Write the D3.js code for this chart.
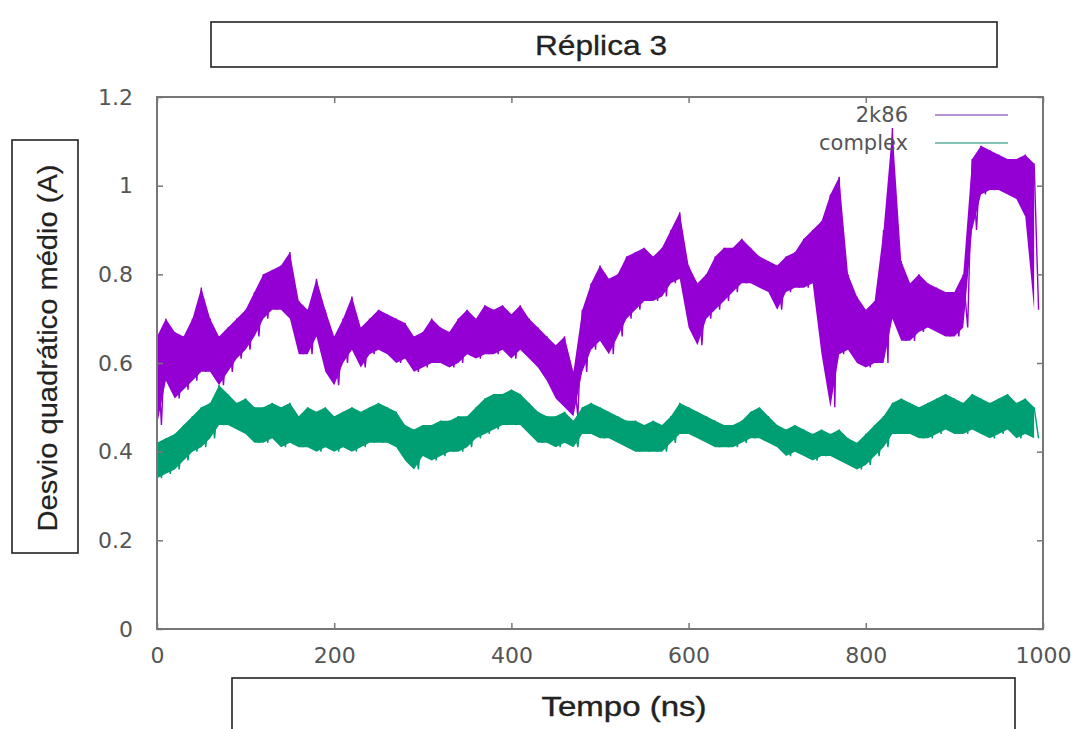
<!DOCTYPE html>
<html lang="pt">
<head>
<meta charset="UTF-8">
<title>Réplica 3</title>
<script src="https://d3js.org/d3.v7.min.js"></script>
<style>
  body { margin: 0; background: #fff; }
  svg { display: block; font-family: 'Liberation Sans', Arial, sans-serif; }
  .tick text { font-family: 'DejaVu Sans', sans-serif; fill: #555; }
</style>
</head>
<body>
<svg width="1074" height="729"></svg>
<script>
// time bins (ns), one per 10 ns
const times = d3.range(0, 1000, 10);

// 2k86: band top / bottom per bin
const k86Hi = [0.66,0.70,0.67,0.66,0.70,0.77,0.70,0.66,0.68,0.70,
               0.72,0.76,0.80,0.81,0.82,0.85,0.74,0.72,0.79,0.72,
               0.66,0.70,0.75,0.68,0.70,0.72,0.71,0.70,0.69,0.66,
               0.67,0.70,0.68,0.67,0.70,0.72,0.70,0.73,0.72,0.73,
               0.71,0.73,0.70,0.68,0.66,0.64,0.66,0.58,0.72,0.78,
               0.82,0.79,0.80,0.84,0.85,0.86,0.84,0.86,0.90,0.94,
               0.82,0.78,0.80,0.84,0.86,0.86,0.88,0.86,0.84,0.83,
               0.82,0.84,0.85,0.88,0.90,0.92,0.98,1.02,0.80,0.75,
               0.72,0.74,0.90,1.13,0.83,0.78,0.80,0.78,0.77,0.76,
               0.76,0.80,1.06,1.09,1.08,1.07,1.06,1.06,1.07,1.05];
const k86Lo = [0.46,0.56,0.52,0.54,0.56,0.58,0.58,0.55,0.58,0.61,
               0.63,0.66,0.70,0.72,0.72,0.70,0.62,0.62,0.66,0.58,
               0.55,0.60,0.63,0.59,0.62,0.63,0.62,0.60,0.61,0.58,
               0.59,0.60,0.60,0.59,0.60,0.62,0.61,0.62,0.62,0.63,
               0.61,0.63,0.61,0.59,0.56,0.52,0.50,0.48,0.58,0.63,
               0.65,0.62,0.66,0.70,0.72,0.74,0.74,0.75,0.78,0.79,
               0.68,0.64,0.70,0.72,0.74,0.76,0.78,0.78,0.77,0.76,
               0.72,0.76,0.77,0.77,0.78,0.62,0.50,0.62,0.63,0.60,
               0.59,0.60,0.60,0.70,0.65,0.65,0.67,0.68,0.67,0.66,
               0.66,0.68,0.90,0.98,0.99,0.99,0.98,0.97,0.93,0.72];

// complex
const cplxHi = [0.42,0.43,0.44,0.46,0.48,0.50,0.51,0.55,0.53,0.51,
                0.52,0.50,0.50,0.51,0.50,0.51,0.48,0.50,0.49,0.50,
                0.48,0.49,0.50,0.49,0.50,0.51,0.50,0.49,0.46,0.45,
                0.46,0.46,0.47,0.47,0.48,0.48,0.50,0.52,0.53,0.53,
                0.54,0.53,0.51,0.49,0.48,0.48,0.49,0.47,0.50,0.51,
                0.50,0.49,0.48,0.47,0.47,0.46,0.47,0.46,0.48,0.51,
                0.50,0.49,0.48,0.47,0.46,0.46,0.47,0.49,0.50,0.48,
                0.46,0.45,0.46,0.45,0.44,0.45,0.44,0.45,0.43,0.42,
                0.44,0.46,0.48,0.51,0.52,0.51,0.50,0.51,0.52,0.53,
                0.52,0.51,0.53,0.52,0.51,0.52,0.53,0.51,0.52,0.50];
const cplxLo = [0.34,0.35,0.36,0.38,0.40,0.41,0.43,0.46,0.46,0.45,
                0.44,0.42,0.42,0.43,0.41,0.42,0.41,0.41,0.40,0.41,
                0.40,0.41,0.40,0.41,0.42,0.42,0.42,0.41,0.38,0.36,
                0.39,0.38,0.39,0.40,0.40,0.41,0.43,0.44,0.45,0.46,
                0.46,0.46,0.44,0.42,0.42,0.41,0.42,0.41,0.44,0.44,
                0.43,0.43,0.42,0.41,0.40,0.40,0.40,0.40,0.42,0.44,
                0.44,0.43,0.42,0.41,0.41,0.41,0.42,0.43,0.43,0.42,
                0.41,0.39,0.40,0.39,0.38,0.39,0.39,0.38,0.37,0.36,
                0.37,0.39,0.41,0.44,0.44,0.44,0.43,0.43,0.44,0.45,
                0.44,0.44,0.45,0.44,0.43,0.44,0.45,0.43,0.44,0.43];

const xTicks = [0, 200, 400, 600, 800, 1000];
const yTicks = [0, 0.2, 0.4, 0.6, 0.8, 1, 1.2];

const series = [
  { name: "2k86", hi: k86Hi, lo: k86Lo, color: "#9400d3", legend: "#a070c8" },
  { name: "complex", hi: cplxHi, lo: cplxLo, color: "#009e73", legend: "#5fb0a0" }
];

const svg = d3.select("svg");
const m = { left: 157, right: 1043, top: 97, bottom: 629 };

const x = d3.scaleLinear().domain([0, 1000]).range([m.left, m.right]);
const y = d3.scaleLinear().domain([0, 1.2]).range([m.bottom, m.top]);

// title / label boxes
svg.append("rect").attr("x", 211).attr("y", 22).attr("width", 786).attr("height", 45)
  .attr("fill", "none").attr("stroke", "#222").attr("stroke-width", 1.6);
svg.append("text").attr("x", 601).attr("y", 55).attr("text-anchor", "middle")
  .attr("font-size", 28).attr("fill", "#222").attr("stroke", "#222").attr("stroke-width", 0.3)
  .attr("textLength", 132).attr("lengthAdjust", "spacingAndGlyphs")
  .text("Réplica 3");

svg.append("rect").attr("x", 12).attr("y", 140).attr("width", 66).attr("height", 413)
  .attr("fill", "none").attr("stroke", "#222").attr("stroke-width", 1.6);
svg.append("text").attr("transform", "translate(57,348) rotate(-90)")
  .attr("text-anchor", "middle").attr("font-size", 28).attr("fill", "#222")
  .attr("stroke", "#222").attr("stroke-width", 0.2)
  .attr("textLength", 367).attr("lengthAdjust", "spacingAndGlyphs")
  .text("Desvio quadrático médio (A)");

svg.append("rect").attr("x", 232).attr("y", 678).attr("width", 783).attr("height", 70)
  .attr("fill", "none").attr("stroke", "#222").attr("stroke-width", 1.6);
svg.append("text").attr("x", 624).attr("y", 716).attr("text-anchor", "middle")
  .attr("font-size", 27).attr("fill", "#222").attr("stroke", "#222").attr("stroke-width", 0.4)
  .attr("textLength", 165).attr("lengthAdjust", "spacingAndGlyphs")
  .text("Tempo (ns)");

// series: filled band between bin top and bottom, with a zigzag through them
const line = d3.line().x(d => x(d[0])).y(d => y(d[1]));
const band = d3.area().x(d => x(d.t)).y0(d => y(d.lo)).y1(d => y(d.hi));
series.forEach(s => {
  const rows = times.map((t, i) => ({ t: t, hi: s.hi[i], lo: s.lo[i] }));
  svg.append("path").datum(rows)
    .attr("d", band)
    .attr("fill", s.color);
  const pts = [];
  rows.forEach(r => {
    pts.push([r.t, r.hi]);
    pts.push([r.t + 5, r.lo]);
  });
  svg.append("path").datum(pts)
    .attr("d", line)
    .attr("fill", "none")
    .attr("stroke", s.color)
    .attr("stroke-width", 1.4);
});

// axes (gnuplot-like: border with inward mirrored ticks)
const tickLen = 6;
const axisColor = "#777";
const axB = svg.append("g").attr("transform", `translate(0,${m.bottom})`)
  .call(d3.axisBottom(x).tickValues(xTicks).tickFormat(d3.format("d")).tickSizeInner(-tickLen).tickSizeOuter(0).tickPadding(18));
const axL = svg.append("g").attr("transform", `translate(${m.left},0)`)
  .call(d3.axisLeft(y).tickValues(yTicks).tickFormat(d3.format("~g")).tickSizeInner(-tickLen).tickSizeOuter(0).tickPadding(24));
const axT = svg.append("g").attr("transform", `translate(0,${m.top})`)
  .call(d3.axisTop(x).tickValues(xTicks).tickSizeInner(-tickLen).tickSizeOuter(0).tickFormat(""));
const axR = svg.append("g").attr("transform", `translate(${m.right},0)`)
  .call(d3.axisRight(y).tickValues(yTicks).tickSizeInner(-tickLen).tickSizeOuter(0).tickFormat(""));
[axB, axL, axT, axR].forEach(g => {
  g.select(".domain").remove();
  g.selectAll(".tick line").attr("stroke", axisColor).attr("stroke-width", 1.5);
  g.selectAll(".tick text").attr("font-size", 22);
});
svg.append("rect").attr("x", m.left).attr("y", m.top)
  .attr("width", m.right - m.left).attr("height", m.bottom - m.top)
  .attr("fill", "none").attr("stroke", axisColor).attr("stroke-width", 2);

// legend
const leg = svg.append("g");
series.forEach((s, i) => {
  const ly = 115 + i * 28;
  leg.append("text").attr("x", 908).attr("y", ly).attr("dy", "0.35em")
    .attr("text-anchor", "end").attr("font-family", "'DejaVu Sans', sans-serif")
    .attr("font-size", 21).attr("fill", "#555").text(s.name);
  leg.append("line").attr("x1", 935).attr("x2", 1008).attr("y1", ly).attr("y2", ly)
    .attr("stroke", s.legend).attr("stroke-width", 1.5);
});
</script>
</body>
</html>
